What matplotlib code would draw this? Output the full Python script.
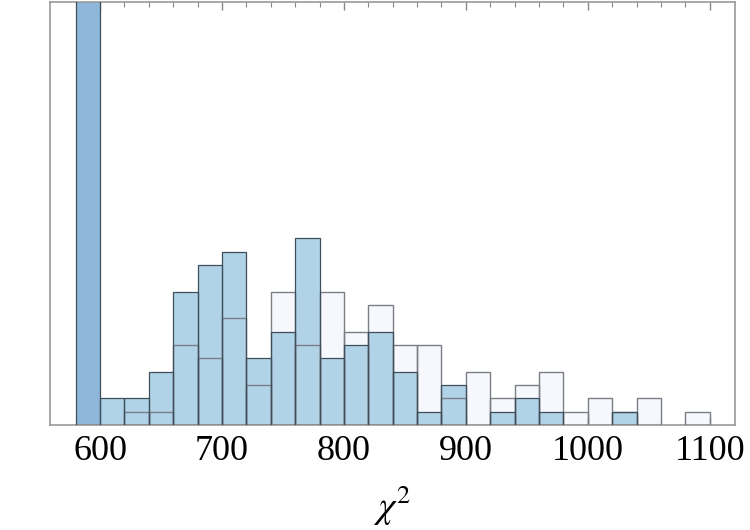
import numpy as np
import matplotlib.pyplot as plt

plt.rcParams['mathtext.fontset'] = 'stix'

# bins of width 20 from 580 to 1100
edges = np.arange(580, 1101, 20)

# blue histogram (first bin runs off the top of the plot)
blue_counts = [40, 2, 2, 4, 10, 12, 13, 5, 7, 14, 5, 6, 7, 4, 1, 3,
               0, 1, 2, 1, 0, 0, 1, 0, 0, 0]
# light histogram
light_counts = [0, 0, 1, 1, 6, 5, 8, 3, 10, 6, 10, 7, 9, 6, 6, 2,
                4, 2, 3, 4, 1, 2, 1, 2, 0, 1]

xticks = [600, 700, 800, 900, 1000, 1100]

fig = plt.figure(figsize=(7.5, 5.3), dpi=100)
ax = fig.add_axes([0.0667, 0.198, 0.913, 0.798])

left = edges[:-1]
width = np.diff(edges)
light = [c if c > 0 else np.nan for c in light_counts]
blue = [c if c > 0 else np.nan for c in blue_counts]

# light fill underneath
ax.bar(left, light, width=width, align='edge', color='#F7F8FD',
       edgecolor='none', zorder=1)
# blue fill
bars = ax.bar(left, blue, width=width, align='edge', color='#B1D3E8',
              edgecolor='none', zorder=2)
bars[0].set_facecolor('#8FB6DB')
# light outlines
ax.bar(left, light, width=width, align='edge', fill=False,
       edgecolor='#7A7F86', linewidth=1.0, zorder=3)
# blue outlines on top
ax.bar(left, blue, width=width, align='edge', fill=False,
       edgecolor='#3E4E5A', linewidth=0.9, zorder=4)

ax.set_xlim(559, 1120.5)
ax.set_ylim(0, 31.7)
ax.set_yticks([])
ax.set_xticks(xticks)
ax.set_xticks(np.arange(580, 1101, 20), minor=True)
ax.tick_params(axis='x', which='major', direction='in', length=6, width=1,
               color='#888888', top=True, pad=7)
ax.tick_params(axis='x', which='minor', direction='in', length=3.5, width=0.8,
               color='#888888', top=True)
for lab in ax.get_xticklabels():
    lab.set_fontfamily('Liberation Serif')
    lab.set_fontsize(26)

for s in ax.spines.values():
    s.set_color('#999999')
    s.set_linewidth(1.2)

ax.set_xlabel(r'$\chi^2$', fontsize=27, labelpad=11)

fig.savefig('out.png', dpi=100)
